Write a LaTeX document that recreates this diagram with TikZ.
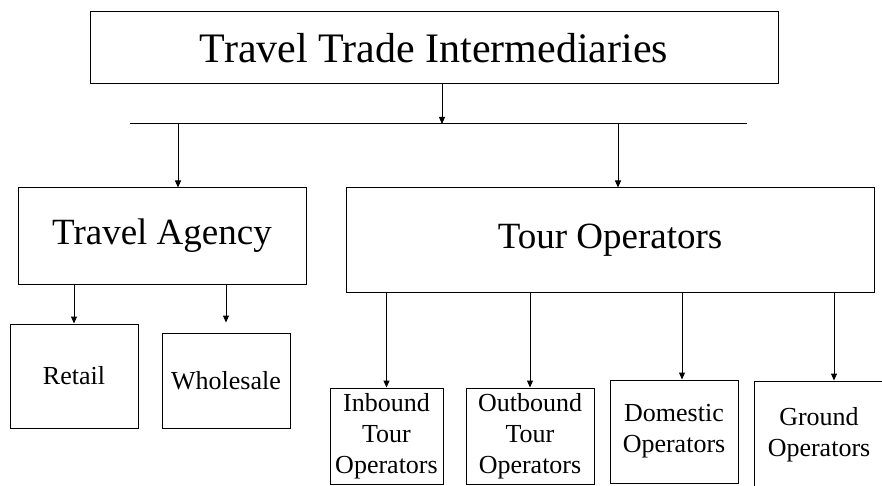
\documentclass[tikz,border=0pt]{standalone}
\usepackage{fontspec}
\setmainfont{Liberation Serif}
\usetikzlibrary{arrows.meta}

\begin{document}
\begin{tikzpicture}[x=1pt,y=-1pt,line width=1pt]
	\tikzstyle{boite}=[rectangle,draw,inner sep=0pt,align=center]
	\tikzstyle{grand}=[boite,font=\fontsize{42}{48}\selectfont]
	\tikzstyle{moyen}=[boite,font=\fontsize{37}{44}\selectfont]
	\tikzstyle{petit}=[boite,font=\fontsize{26}{31}\selectfont]
	\tikzstyle{fleche}=[-{Triangle[length=7pt,width=6pt]}]
	\useasboundingbox (0,0) rectangle (882,486);
	% boxes
	\node[grand,minimum width=688,minimum height=72] (top) at (434,48){Travel Trade Intermediaries};
	\node[moyen,minimum width=288,minimum height=96] (agency) at (162,236){Travel Agency};
	\node[moyen,minimum width=528,minimum height=104] (tourop) at (610,240){Tour Operators};
	\node[petit,minimum width=128,minimum height=104] (retail) at (74,376){Retail};
	\node[petit,minimum width=128,minimum height=95] (whole) at (226,380.5){Wholesale};
	\node[petit,minimum width=113,minimum height=96] (inb) at (386.5,436){Inbound\\Tour\\Operators};
	\node[petit,minimum width=128,minimum height=96] (outb) at (530,436){Outbound\\Tour\\Operators};
	\node[petit,minimum width=128,minimum height=103] (dom) at (674,431.5){Domestic\\Operators};
	\node[petit,minimum width=130,minimum height=107] (ground) at (819,434.5){Ground\\Operators};
	% branch line
	\coordinate (lineL) at (130,124);
	\coordinate (lineR) at (747,124);
	\coordinate (hub) at (442,124);
	\coordinate (aL) at (178,124);
	\coordinate (aR) at (618,124);
	\draw (lineL) -- (lineR);
	\draw[fleche] (top.south -| hub) -- (hub);
	\draw[fleche] (aL) -- (aL |- agency.north);
	\draw[fleche] (aR) -- (aR |- tourop.north);
	% travel agency
	\draw[fleche] (agency.south -| retail.north) -- (retail.north);
	\draw[fleche] (agency.south -| whole.north) -- ([yshift=10pt]whole.north);
	% tour operators
	\draw[fleche] (tourop.south -| inb.north) -- (inb.north);
	\draw[fleche] (tourop.south -| outb.north) -- (outb.north);
	\draw[fleche] ([xshift=8pt]tourop.south -| dom.north) -- ([xshift=8pt]dom.north);
	\draw[fleche] ([xshift=15pt]tourop.south -| ground.north) -- ([xshift=15pt]ground.north);
\end{tikzpicture}
\end{document}
